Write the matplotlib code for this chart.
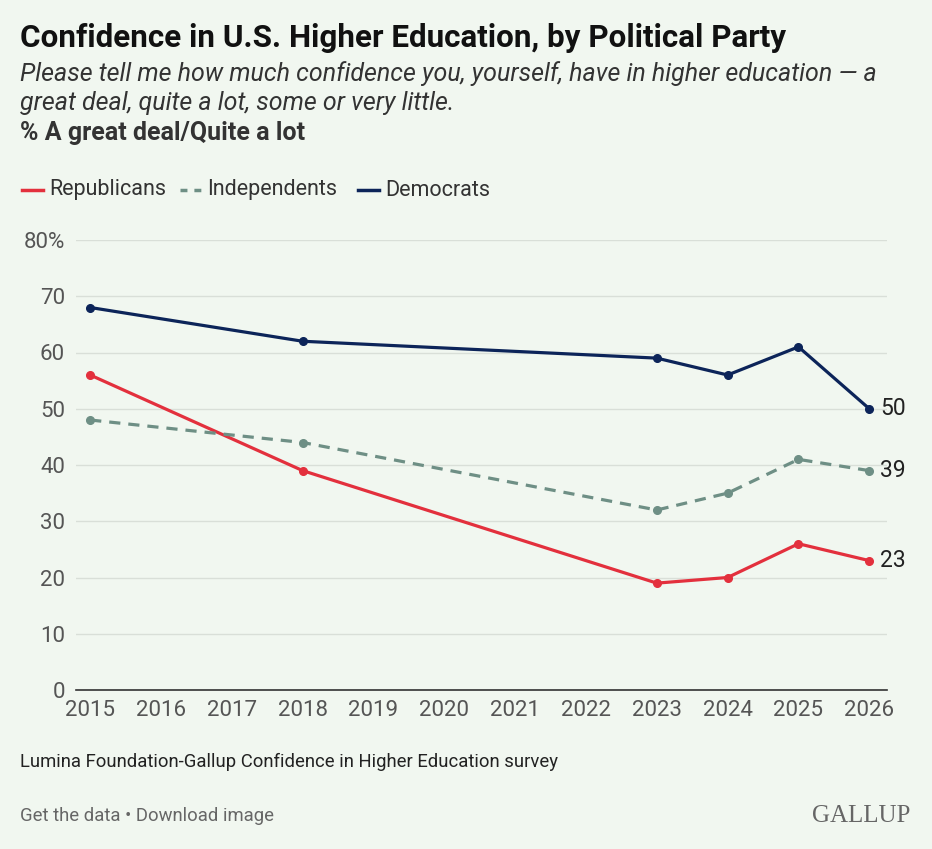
import matplotlib.pyplot as plt

years = [2015, 2018, 2023, 2024, 2025, 2026]
republicans = [56, 39, 19, 20, 26, 23]
independents = [48, 44, 32, 35, 41, 39]
democrats = [68, 62, 59, 56, 61, 50]
xticks = list(range(2015, 2027))
yticks = [0, 10, 20, 30, 40, 50, 60, 70, 80]

bg = "#F1F7F0"
c_rep = "#E3303D"
c_ind = "#6E8F85"
c_dem = "#0C2459"

plt.rcParams['font.family'] = ['Roboto', 'DejaVu Sans']

fig = plt.figure(figsize=(9.32, 8.49), dpi=100, facecolor=bg)
ax = fig.add_axes([76 / 932, 1 - 690 / 849, 811 / 932, 450 / 849], facecolor=bg)

ax.plot(years, republicans, color=c_rep, lw=2.3, marker='o', ms=5.5)
ax.plot(years, independents, color=c_ind, lw=2.3, ls=(0, (3.5, 2.5)), marker='o', ms=5.5)
ax.plot(years, democrats, color=c_dem, lw=2.3, marker='o', ms=5.5)

# end labels
for vals in (democrats, independents, republicans):
    ax.annotate(str(vals[-1]), (years[-1], vals[-1]), xytext=(8, 0),
                textcoords='offset points', va='center', ha='left',
                fontsize=16.5, color='#222222')

ax.set_xlim(2014.80, 2026.25)
ax.set_ylim(0, 80)
ax.set_xticks(xticks)
ax.set_yticks(yticks)
ax.set_yticklabels([str(v) if v != 80 else '80%' for v in yticks])
ax.tick_params(axis='both', length=0, labelsize=16, labelcolor='#555555')
ax.tick_params(axis='x', pad=7)
ax.tick_params(axis='y', pad=8)
ax.grid(axis='y', color='#D9DFD8', lw=1)
ax.set_axisbelow(True)
for s in ['top', 'right', 'left']:
    ax.spines[s].set_visible(False)
ax.spines['bottom'].set_color('#333333')
ax.spines['bottom'].set_linewidth(1.2)

# header
fig.text(20 / 932, 1 - 38 / 849, "Confidence in U.S. Higher Education, by Political Party",
         fontsize=22.6, fontweight='bold', color='#111111', va='center')
fig.text(20 / 932, 1 - 74 / 849,
         "Please tell me how much confidence you, yourself, have in higher education \u2014 a",
         fontsize=18, style='italic', color='#333333', va='center')
fig.text(20 / 932, 1 - 103 / 849, "great deal, quite a lot, some or very little.",
         fontsize=18, style='italic', color='#333333', va='center')
fig.text(20 / 932, 1 - 133 / 849, "% A great deal/Quite a lot",
         fontsize=18, fontweight='bold', color='#333333', va='center')

# legend
legend_items = [("Republicans", c_rep, '-'), ("Independents", c_ind, (0, (2, 2))), ("Democrats", c_dem, '-')]
starts = [22, 180, 358]
for (name, col, ls), xs in zip(legend_items, starts):
    fig.add_artist(plt.Line2D([xs / 932, (xs + 21) / 932], [1 - 190 / 849] * 2,
                              color=col, lw=2.5, ls=ls, transform=fig.transFigure))
    fig.text((xs + 27) / 932, 1 - 190 / 849, name, fontsize=15.5, color='#333333', va='center')

# footer
fig.text(20 / 932, 1 - 762 / 849, "Lumina Foundation-Gallup Confidence in Higher Education survey",
         fontsize=13.3, color='#222222', va='center')
fig.text(20 / 932, 1 - 816 / 849, "Get the data \u2022 Download image",
         fontsize=13.3, color='#666666', va='center')
fig.text(910 / 932, 1 - 816 / 849, "GALLUP", fontsize=18, family='Liberation Serif',
         color='#666666', va='center', ha='right')

fig.savefig('out.png', dpi=100, facecolor=bg)
